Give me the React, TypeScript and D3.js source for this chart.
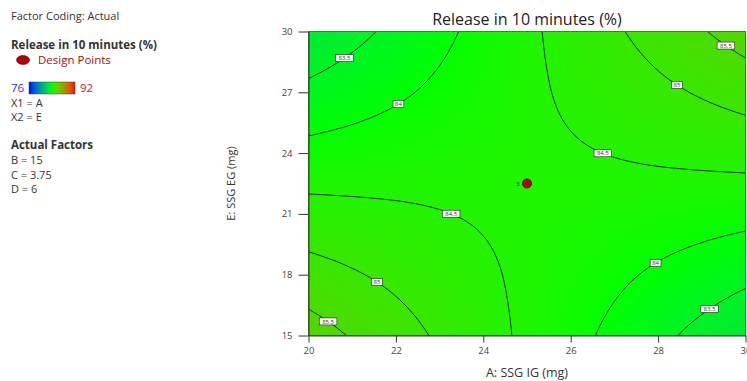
import React, { useEffect, useMemo, useRef } from 'react';
import * as d3 from 'd3';

// factor A (x) and E (y) tick values
const xTicks = [20, 22, 24, 26, 28, 30];
const yTicks = [15, 18, 21, 24, 27, 30];
// Release in 10 minutes (%) read at each tick crossing, rows y = 15 .. 30, cols x = 20 .. 30
const release = [
  [85.73, 85.2, 84.67, 84.15, 83.62, 83.09],
  [85.2, 84.89, 84.57, 84.25, 83.93, 83.62],
  [84.67, 84.57, 84.46, 84.36, 84.25, 84.15],
  [84.15, 84.25, 84.36, 84.46, 84.57, 84.67],
  [83.62, 83.93, 84.25, 84.57, 84.89, 85.2],
  [83.09, 83.62, 84.15, 84.67, 85.2, 85.73],
];
const levels = [83.5, 84, 84.5, 85, 85.5];
const designPoints = [{ a: 25, e: 22.5, count: 3 }];
const colorRange = [76, 92];
const factorCodes = ['X1 = A', 'X2 = E'];
const actualFactors = ['B = 15', 'C = 3.75', 'D = 6'];

const W = 747;
const H = 381;
const FONT = "'Open Sans', 'Noto Sans', sans-serif";
const N = 121; // fine sampling for drawing

const x = d3.scaleLinear().domain([20, 30]).range([308.5, 745.5]);
const y = d3.scaleLinear().domain([15, 30]).range([335.5, 31.5]);

const color = d3
  .scaleLinear<string>()
  .domain([colorRange[0], (colorRange[0] + colorRange[1]) / 2, colorRange[1]])
  .range(['#0000ff', '#00ff00', '#ff0000'])
  .interpolate(d3.interpolateRgb.gamma(1.4));

// value of the read grid at a data point (bilinear between tick crossings)
function valueAt(xv: number, yv: number) {
  const fx = (xv - xTicks[0]) / (xTicks[1] - xTicks[0]);
  const fy = (yv - yTicks[0]) / (yTicks[1] - yTicks[0]);
  const i = Math.min(Math.floor(fx), xTicks.length - 2);
  const j = Math.min(Math.floor(fy), yTicks.length - 2);
  const tx = fx - i;
  const ty = fy - j;
  const r0 = release[j][i] * (1 - tx) + release[j][i + 1] * tx;
  const r1 = release[j + 1][i] * (1 - tx) + release[j + 1][i + 1] * tx;
  return r0 * (1 - ty) + r1 * ty;
}

const gx2data = (c: number) => 20 + ((c - 0.5) / (N - 1)) * 10;
const gy2data = (c: number) => 30 - ((c - 0.5) / (N - 1)) * 15;

function isolineRuns(mp: any) {
  const runs: number[][][] = [];
  const edge = (p: number[]) => p[0] < 0.25 || p[0] > N - 0.25 || p[1] < 0.25 || p[1] > N - 0.25;
  for (const poly of mp.coordinates) {
    for (const ring of poly) {
      const pts = ring.slice(0, -1);
      const k = pts.findIndex(edge);
      if (k < 0) {
        runs.push(ring);
        continue;
      }
      const rot = pts.slice(k).concat(pts.slice(0, k));
      let cur: number[][] = [];
      for (const p of rot) {
        if (edge(p)) {
          if (cur.length > 1) runs.push(cur);
          cur = [];
        } else cur.push(p);
      }
      if (cur.length > 1) runs.push(cur);
    }
  }
  return runs.map((r) => r.map((p) => [x(gx2data(p[0])), y(gy2data(p[1]))]));
}

function midPoint(pts: number[][]) {
  let total = 0;
  const seg: number[] = [];
  for (let i = 1; i < pts.length; i++) {
    const d = Math.hypot(pts[i][0] - pts[i - 1][0], pts[i][1] - pts[i - 1][1]);
    seg.push(d);
    total += d;
  }
  let acc = 0;
  for (let i = 0; i < seg.length; i++) {
    if (acc + seg[i] >= total / 2) {
      const t = (total / 2 - acc) / seg[i];
      return [pts[i][0] + (pts[i + 1][0] - pts[i][0]) * t, pts[i][1] + (pts[i + 1][1] - pts[i][1]) * t];
    }
    acc += seg[i];
  }
  return pts[0];
}

export default function App() {
  const xAxisRef = useRef<SVGGElement>(null);
  const yAxisRef = useRef<SVGGElement>(null);

  const { bands, lines } = useMemo(() => {
    const values: number[] = [];
    for (let j = 0; j < N; j++) {
      for (let i = 0; i < N; i++) {
        values.push(valueAt(20 + (i / (N - 1)) * 10, 30 - (j / (N - 1)) * 15));
      }
    }
    const contours = d3.contours().size([N, N]);
    const proj = d3.geoTransform({
      point(px: number, py: number) {
        (this as any).stream.point(x(gx2data(px)), y(gy2data(py)));
      },
    });
    const path = d3.geoPath(proj);
    const lo = Math.floor(d3.min(values)! * 20) / 20;
    const hi = d3.max(values)!;
    const bands = contours.thresholds(d3.range(lo, hi, 0.02))(values).map((c) => ({
      d: path(c as any) || '',
      fill: color(c.value + 0.01),
    }));
    const lines = levels.map((lv) => ({
      level: lv,
      runs: isolineRuns(contours.contour(values, lv)),
    }));
    return { bands, lines };
  }, []);

  useEffect(() => {
    const gx = d3.select(xAxisRef.current!);
    gx.call(d3.axisBottom(x).tickValues(xTicks).tickSize(7).tickPadding(5).tickSizeOuter(0) as any);
    gx.selectAll('text').attr('font-size', 9.5).attr('font-family', FONT).attr('fill', '#444');
    gx.selectAll('line,path').attr('stroke', '#333');
    const gy = d3.select(yAxisRef.current!);
    gy.call(d3.axisLeft(y).tickValues(yTicks).tickSize(10).tickPadding(6).tickSizeOuter(0) as any);
    gy.selectAll('text').attr('font-size', 9.5).attr('font-family', FONT).attr('fill', '#444');
    gy.selectAll('line,path').attr('stroke', '#333');
  }, []);

  const line = d3.line();
  const [x0, x1] = x.range();
  const [y1, y0] = y.range();

  return (
    <svg width={W} height={H} style={{ position: 'absolute', left: 0, top: 0 }} fontFamily={FONT}>
      <defs>
        <clipPath id="plotClip">
          <rect x={x0} y={y0} width={x1 - x0} height={y1 - y0} />
        </clipPath>
        <linearGradient id="bar" x1="0" x2="1" y1="0" y2="0">
          {d3.range(colorRange[0], colorRange[1] + 0.01, 1).map((v) => (
            <stop key={v} offset={(v - colorRange[0]) / (colorRange[1] - colorRange[0])} stopColor={color(v)} />
          ))}
        </linearGradient>
      </defs>

      {/* left legend */}
      <g fill="#333" fontSize={11}>
        <text x={11} y={20}>Factor Coding: Actual</text>
        <text x={11} y={49} fontWeight="bold" fontSize={11.5}>Release in 10 minutes (%)</text>
        <ellipse cx={23} cy={60} rx={6.5} ry={4.5} fill="#b00000" stroke="#600" strokeWidth={0.6} />
        <text x={38} y={64} fill="#a01010" fontSize={11.5}>Design Points</text>
        <text x={11} y={92} fill="#3030d0" fontSize={11.5}>{colorRange[0]}</text>
        <rect x={29} y={82} width={46} height={12} fill="url(#bar)" stroke="#444" strokeWidth={0.5} />
        <text x={80} y={92} fill="#c02020" fontSize={11.5}>{colorRange[1]}</text>
        {factorCodes.map((t, i) => (
          <text key={t} x={11} y={107 + i * 14}>{t}</text>
        ))}
        <text x={11} y={149} fontWeight="bold" fontSize={11.5}>Actual Factors</text>
        {actualFactors.map((t, i) => (
          <text key={t} x={11} y={164 + i * 14.5}>{t}</text>
        ))}
      </g>

      {/* title */}
      <text x={(x0 + x1) / 2} y={25} textAnchor="middle" fontSize={16} fill="#222">
        Release in 10 minutes (%)
      </text>

      <g clipPath="url(#plotClip)">
        {bands.map((b, i) => (
          <path key={i} d={b.d} fill={b.fill} stroke={b.fill} strokeWidth={0.4} />
        ))}
        {lines.map((l) =>
          l.runs.map((r, k) => (
            <path key={`${l.level}-${k}`} d={line(r as any) || ''} fill="none" stroke="#16301a" strokeWidth={1} />
          ))
        )}
      </g>
      <rect x={x0} y={y0} width={x1 - x0} height={y1 - y0} fill="none" stroke="#555" strokeWidth={0.8} />

      {/* contour labels */}
      {lines.map((l) =>
        l.runs.map((r, k) => {
          const [mx, my] = midPoint(r);
          const txt = String(l.level);
          const w = txt.length * 3.4 + 4;
          return (
            <g key={`lab-${l.level}-${k}`}>
              <rect x={mx - w / 2} y={my - 3.5} width={w} height={7} fill="#fff" stroke="#222" strokeWidth={0.6} />
              <text x={mx} y={my + 2.2} textAnchor="middle" fontSize={6} fill="#333">{txt}</text>
            </g>
          );
        })
      )}

      {/* design points */}
      {designPoints.map((p, i) => (
        <g key={i}>
          <circle cx={x(p.a)} cy={y(p.e)} r={4.5} fill="#c00000" stroke="#400" strokeWidth={0.8} />
          <text x={x(p.a) - 9} y={y(p.e) + 2.2} fontSize={6} fill="#333" textAnchor="middle">{p.count}</text>
        </g>
      ))}

      <g ref={xAxisRef} transform={`translate(0,${y1})`} />
      <g ref={yAxisRef} transform={`translate(${x0},0)`} />

      <text x={(x0 + x1) / 2} y={377} textAnchor="middle" fontSize={12.5} fill="#333">
        A: SSG IG (mg)
      </text>
      <text transform={`translate(235,${(y0 + y1) / 2}) rotate(-90)`} textAnchor="middle" fontSize={11} fill="#333">
        E: SSG EG (mg)
      </text>
    </svg>
  );
}
